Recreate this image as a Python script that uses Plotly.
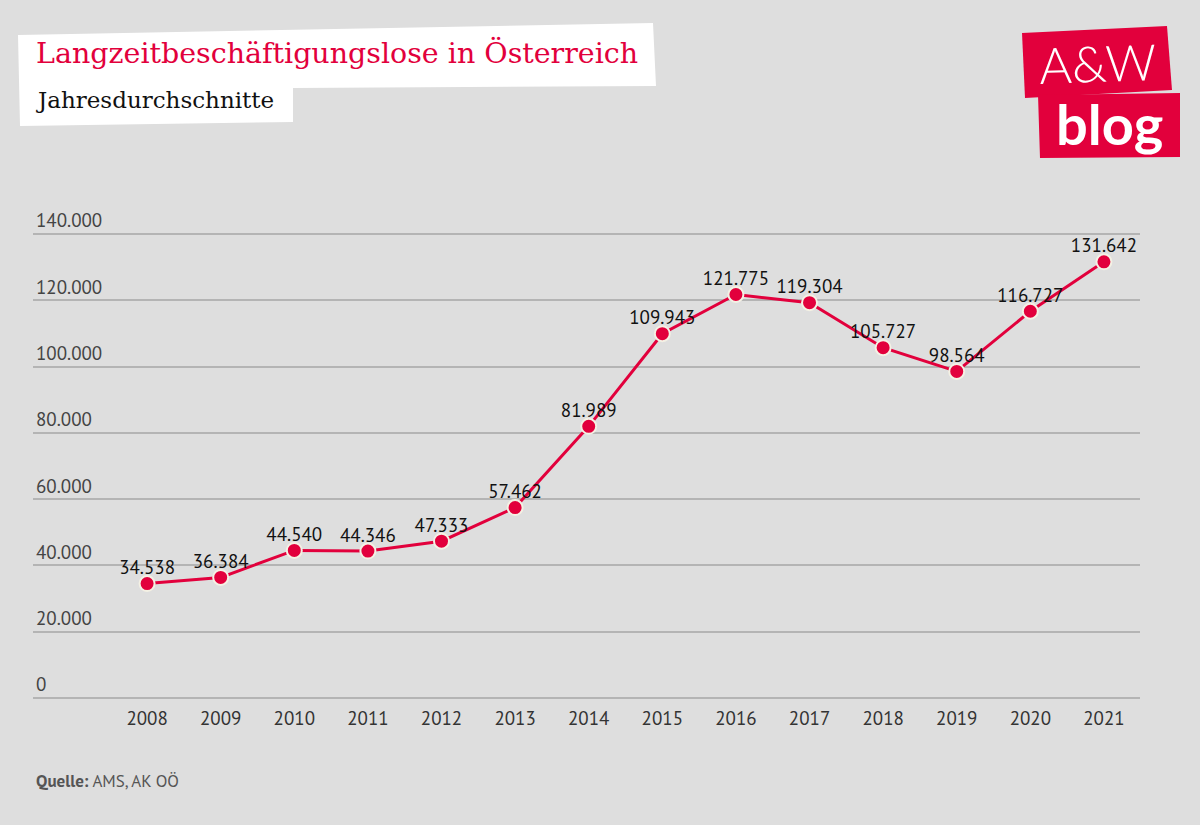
import plotly.graph_objects as go

years = [2008, 2009, 2010, 2011, 2012, 2013, 2014, 2015, 2016, 2017, 2018, 2019, 2020, 2021]
values = [34538, 36384, 44540, 44346, 47333, 57462, 81989, 109943, 121775, 119304, 105727, 98564, 116727, 131642]
y_ticks = [0, 20000, 40000, 60000, 80000, 100000, 120000, 140000]

RED = "#e2003c"
BG = "#dedede"
FONT = "PT Sans, Lato, sans-serif"
W, H = 1200, 825
YMAX = 150000
ML, MR, MB = 33, 60, 127
PX_PER = (698 - 234) / 140000.0
MT = int(round(698 - YMAX * PX_PER))

pw = W - ML - MR
ph = H - MT - MB

def ax(xpix):
    return (xpix - ML) / pw

def ay(ypix):
    return (H - MB - ypix) / ph

fig = go.Figure()
fig.add_trace(go.Scatter(
    x=years, y=values, mode="lines+markers",
    line=dict(color=RED, width=3),
    marker=dict(size=15, color=RED, line=dict(color="#f4f1e4", width=2)),
    hoverinfo="skip",
))
fig.add_trace(go.Scatter(
    x=years, y=values, mode="markers+text",
    marker=dict(size=6, opacity=0),
    texttemplate="%{y:,}", textposition="top center",
    textfont=dict(family=FONT, size=19, color="#111"),
    hoverinfo="skip", cliponaxis=False,
))

def poly_path(pts):
    return "M " + " L ".join(f"{ax(a):.5f},{ay(b):.5f}" for a, b in pts) + " Z"

title_box = [(18, 35), (653, 23), (656, 86), (293, 88), (293, 122), (20, 126)]
logo1 = [(1022, 33), (1167, 26), (1172, 90), (1025, 98)]
logo2 = [(1038, 95), (1180, 93), (1180, 157), (1040, 158)]
shapes = [dict(type="path", xref="paper", yref="paper", path=poly_path(title_box),
               fillcolor="white", line=dict(width=0), layer="below")]
for poly in (logo1, logo2):
    shapes.append(dict(type="path", xref="paper", yref="paper", path=poly_path(poly),
                       fillcolor=RED, line=dict(width=0), layer="above"))

annotations = [
    dict(text="Langzeitbeschäftigungslose in Österreich", x=ax(34), y=ay(53), xref="paper", yref="paper",
         xanchor="left", yanchor="middle", showarrow=False,
         font=dict(family="DejaVu Serif", size=28.5, color=RED)),
    dict(text="Jahresdurchschnitte", x=ax(34), y=ay(100), xref="paper", yref="paper",
         xanchor="left", yanchor="middle", showarrow=False,
         font=dict(family="DejaVu Serif", size=23, color="#111")),
    dict(text="A&amp;W", x=ax(1097), y=ay(63), xref="paper", yref="paper",
         xanchor="center", yanchor="middle", showarrow=False, textangle=-2,
         font=dict(family="Lato", size=50, color="white", weight=300)),
    dict(text="<b>blog</b>", x=ax(1109), y=ay(123), xref="paper", yref="paper",
         xanchor="center", yanchor="middle", showarrow=False,
         font=dict(family="Lato", size=56, color="white")),
    dict(text="<b>Quelle:</b> AMS, AK OÖ", x=ax(34), y=ay(781), xref="paper", yref="paper",
         xanchor="left", yanchor="middle", showarrow=False,
         font=dict(family=FONT, size=17, color="#555")),
]

fig.update_layout(
    width=W, height=H,
    margin=dict(l=ML, r=MR, t=MT, b=MB, autoexpand=False),
    paper_bgcolor=BG, plot_bgcolor=BG,
    separators=",.",
    showlegend=False,
    shapes=shapes,
    annotations=annotations,
    xaxis=dict(range=[2006.45, 2021.49], tickmode="array", tickvals=years,
               ticktext=[str(y) for y in years], showgrid=False, zeroline=False,
               showline=False, ticks="", ticklabelstandoff=7,
               tickfont=dict(family=FONT, size=19, color="#333")),
    yaxis=dict(range=[0, YMAX], tickmode="array", tickvals=y_ticks,
               ticktext=[f"{v:,}".replace(",", ".") for v in y_ticks],
               showgrid=True, gridcolor="#b4b4b4", gridwidth=1.5,
               zeroline=True, zerolinecolor="#b4b4b4", zerolinewidth=1.5,
               ticklabelposition="inside top", ticks="",
               tickfont=dict(family=FONT, size=19, color="#444")),
)

fig.write_html("out.html", config={"displayModeBar": False},
               post_script="document.body.style.margin='0';document.body.style.overflow='hidden';")
